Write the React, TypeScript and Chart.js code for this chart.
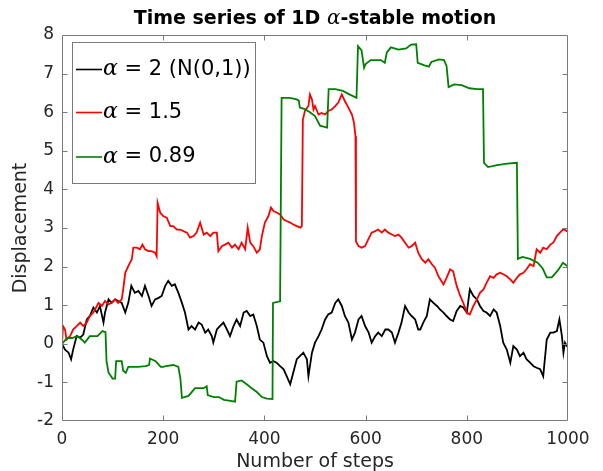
import React, { useEffect, useRef } from "react";
import { Chart, registerables } from "chart.js";

Chart.register(...registerables);

const TITLE_PARTS = ["Time series of 1D ", "α", "-stable motion"];
const X_LABEL = "Number of steps";
const Y_LABEL = "Displacement";
const SERIES_LABELS = ["α = 2 (N(0,1))", "α = 1.5", "α = 0.89"];
const SERIES_COLORS = ["#000000", "#ff0000", "#008000"];
const X_MIN = 0;
const X_MAX = 1000;
const X_STEP = 200;
const Y_MIN = -2;
const Y_MAX = 8;
const Y_STEP = 1;

// [step, displacement]
const blackWalk = [[0,0.0],[6,-0.15],[13,-0.23],[18,-0.40],[22,-0.15],[29,0.20],[36,0.16],[42,0.24],[49,0.63],[55,0.72],[62,0.94],[69,0.81],[75,0.98],[82,0.55],[85,0.81],[92,1.15],[98,1.06],[105,1.15],[111,1.11],[118,1.06],[125,0.81],[131,1.06],[137,1.50],[144,1.32],[151,1.37],[158,1.24],[164,1.50],[171,1.24],[177,0.98],[184,1.15],[191,1.19],[197,1.24],[204,1.50],[210,1.63],[217,1.50],[223,1.54],[230,1.32],[237,1.06],[243,0.81],[250,0.37],[256,0.46],[263,0.37],[270,0.55],[276,0.50],[283,0.29],[289,0.37],[296,0.20],[299,0.03],[306,0.37],[312,0.46],[319,0.55],[326,0.37],[332,0.20],[339,0.46],[345,0.63],[352,0.46],[359,0.81],[365,0.85],[372,0.72],[378,0.76],[385,0.46],[391,0.11],[398,0.03],[405,-0.32],[411,-0.49],[418,-0.45],[424,-0.49],[431,-0.58],[438,-0.66],[444,-0.84],[451,-1.05],[457,-0.75],[464,-0.40],[470,-0.32],[477,-0.23],[484,-0.40],[487,-0.84],[494,-0.23],[500,0.03],[507,0.20],[513,0.37],[520,0.63],[526,0.76],[533,0.81],[540,1.06],[546,1.15],[553,0.98],[559,0.72],[566,0.55],[573,0.11],[579,0.29],[586,0.63],[592,0.72],[599,0.46],[606,0.29],[612,0.03],[619,0.20],[625,0.29],[632,0.20],[639,0.37],[645,0.37],[652,0.29],[658,0.03],[665,0.29],[671,0.55],[678,0.98],[685,0.81],[691,0.72],[698,0.63],[704,0.37],[708,0.37],[714,0.55],[721,0.72],[727,1.15],[734,1.06],[741,0.98],[747,0.89],[754,0.81],[760,0.72],[767,0.63],[773,0.59],[780,0.85],[787,0.98],[793,0.94],[800,0.81],[806,1.41],[813,1.24],[820,1.15],[826,0.98],[833,0.85],[839,0.81],[846,0.72],[853,0.89],[859,0.81],[866,0.46],[872,0.03],[879,-0.15],[886,-0.49],[892,-0.06],[899,-0.15],[905,-0.32],[912,-0.23],[918,-0.40],[925,-0.49],[932,-0.58],[938,-0.62],[945,-0.66],[951,-0.84],[958,0.11],[965,0.29],[971,0.29],[978,0.33],[983,0.63],[988,0.20],[991,-0.23],[994,0.03],[998,-0.06],[1000,-0.05]];

const redWalk = [[0,0.0],[2,0.46],[6,0.37],[9,0.11],[16,0.20],[22,0.37],[29,0.46],[36,0.55],[42,0.46],[49,0.55],[55,0.72],[62,0.81],[69,0.98],[72,1.06],[79,0.98],[85,1.11],[92,1.02],[98,1.06],[105,1.15],[111,1.06],[118,1.15],[121,1.41],[125,1.84],[131,2.01],[138,2.19],[141,2.49],[148,2.49],[154,2.45],[159,2.57],[164,2.45],[171,2.40],[177,2.40],[184,2.36],[187,2.27],[189,3.65],[194,3.40],[200,3.31],[207,3.27],[214,3.05],[220,3.05],[227,2.96],[233,2.96],[240,2.92],[247,2.88],[253,2.75],[260,2.79],[266,2.88],[273,3.14],[280,2.83],[286,2.88],[293,2.79],[299,2.88],[306,2.88],[309,2.40],[316,2.53],[322,2.57],[329,2.62],[336,2.49],[342,2.57],[349,2.45],[355,2.62],[362,2.45],[367,3.01],[372,2.62],[378,2.53],[385,2.36],[391,2.45],[395,2.79],[401,3.14],[408,3.31],[413,3.53],[418,3.44],[424,3.40],[431,3.35],[438,3.22],[444,3.18],[451,3.14],[457,3.09],[464,3.05],[471,3.01],[474,3.05],[476,5.80],[480,6.03],[487,6.16],[490,6.46],[494,6.33],[497,6.07],[500,6.16],[507,5.94],[513,5.98],[520,5.94],[526,6.03],[533,6.07],[540,6.16],[546,6.25],[553,6.46],[559,6.29],[566,6.12],[573,5.94],[577,5.73],[580,5.38],[581,2.65],[586,2.53],[592,2.49],[599,2.53],[605,2.70],[612,2.88],[619,2.92],[625,2.96],[632,2.88],[638,2.96],[645,2.88],[652,2.83],[658,2.79],[665,2.83],[671,2.75],[678,2.62],[685,2.49],[691,2.53],[698,2.62],[704,2.36],[711,2.19],[718,2.10],[724,2.19],[731,2.06],[737,1.97],[744,1.75],[754,1.54],[760,1.71],[767,1.93],[773,1.88],[780,1.50],[787,1.24],[793,1.06],[800,0.81],[806,0.76],[813,0.98],[820,1.15],[826,1.32],[833,1.41],[839,1.58],[846,1.75],[853,1.71],[859,1.80],[866,1.84],[872,1.80],[879,1.75],[886,1.67],[892,1.58],[899,1.71],[905,1.80],[912,1.84],[918,1.93],[925,2.06],[932,2.01],[938,2.45],[945,2.36],[951,2.49],[958,2.45],[965,2.57],[971,2.62],[978,2.79],[984,2.88],[991,2.97],[998,2.92],[1000,2.90]];

const greenWalk = [[0,0.0],[10,0.15],[20,0.15],[30,0.2],[40,0.1],[45,0.03],[55,0.2],[70,0.2],[80,0.33],[86,0.3],[88,-0.45],[92,-0.75],[100,-0.9],[105,-0.9],[107,-0.45],[118,-0.45],[121,-0.7],[126,-0.75],[131,-0.6],[150,-0.6],[165,-0.58],[172,-0.55],[174,-0.38],[185,-0.45],[195,-0.6],[200,-0.6],[205,-0.58],[220,-0.55],[230,-0.6],[234,-0.9],[237,-1.4],[250,-1.35],[263,-1.15],[280,-1.15],[286,-1.1],[288,-1.33],[300,-1.38],[310,-1.38],[320,-1.45],[330,-1.47],[342,-1.5],[345,-0.98],[355,-0.95],[365,-1.05],[375,-1.15],[385,-1.25],[395,-1.38],[405,-1.42],[416,-1.43],[417,1.06],[431,1.1],[434,6.37],[450,6.37],[464,6.33],[468,6.3],[470,6.12],[480,6.08],[490,6.0],[500,5.9],[510,5.65],[524,5.6],[527,6.6],[540,6.6],[555,6.55],[570,6.45],[582,6.37],[585,7.71],[592,7.6],[597,7.15],[600,7.25],[610,7.35],[630,7.35],[638,7.28],[642,7.55],[650,7.68],[665,7.62],[680,7.65],[690,7.75],[700,7.76],[703,7.28],[715,7.22],[725,7.18],[730,7.3],[745,7.37],[755,7.35],[760,7.2],[764,6.65],[775,6.72],[790,6.7],[805,6.62],[820,6.6],[832,6.6],[834,4.69],[842,4.58],[860,4.63],[880,4.67],[899,4.69],[901,2.2],[910,2.25],[925,2.2],[940,2.1],[950,1.95],[958,1.72],[968,1.72],[980,1.9],[990,2.1],[1000,2.0]];

const SANS = "'DejaVu Sans', sans-serif";
const GREEK = "'DejaVu Serif', serif";
const AXIS_COLOR = "#7a7a7a";
const TEXT_COLOR = "#262626";

function pts(walk: number[][]) {
  return walk.map(([s, v]) => ({ x: s, y: v }));
}

function drawRich(ctx: CanvasRenderingContext2D, parts: [string, string][], x: number, y: number, align: "left" | "center") {
  let total = 0;
  for (const [t, f] of parts) {
    ctx.font = f;
    total += ctx.measureText(t).width;
  }
  let cx = align === "center" ? x - total / 2 : x;
  ctx.textBaseline = "middle";
  ctx.textAlign = "left";
  for (const [t, f] of parts) {
    ctx.font = f;
    ctx.fillText(t, cx, y);
    cx += ctx.measureText(t).width;
  }
}

const framePlugin = {
  id: "frame",
  afterDraw(chart: any) {
    const { ctx, chartArea: a, scales } = chart;
    ctx.save();
    const L = Math.round(a.left) + 0.5;
    const R = Math.round(a.right) - 0.5;
    const T = Math.round(a.top) + 0.5;
    const B = Math.round(a.bottom) - 0.5;
    ctx.strokeStyle = AXIS_COLOR;
    ctx.lineWidth = 1;
    ctx.beginPath();
    ctx.rect(L, T, R - L, B - T);
    const tl = 5;
    for (const t of scales.x.ticks) {
      if (t.value === X_MIN || t.value === X_MAX) continue;
      const px = Math.round(scales.x.getPixelForValue(t.value)) + 0.5;
      ctx.moveTo(px, B); ctx.lineTo(px, B - tl);
      ctx.moveTo(px, T); ctx.lineTo(px, T + tl);
    }
    for (const t of scales.y.ticks) {
      if (t.value === Y_MIN || t.value === Y_MAX) continue;
      const py = Math.round(scales.y.getPixelForValue(t.value)) + 0.5;
      ctx.moveTo(L, py); ctx.lineTo(L + tl, py);
      ctx.moveTo(R, py); ctx.lineTo(R - tl, py);
    }
    ctx.stroke();

    // title
    ctx.fillStyle = "#000";
    const cx = (a.left + a.right) / 2;
    drawRich(ctx, [
      [TITLE_PARTS[0], `bold 19px ${SANS}`],
      [TITLE_PARTS[1], `italic 20px ${GREEK}`],
      [TITLE_PARTS[2], `bold 19px ${SANS}`],
    ], cx, 19, "center");

    // legend
    const lx = 72.5, ly = 42.5, lw = 183, lh = 141;
    ctx.fillStyle = "#fff";
    ctx.fillRect(lx, ly, lw, lh);
    ctx.strokeStyle = AXIS_COLOR;
    ctx.strokeRect(lx, ly, lw, lh);
    const rows = [69.5, 112.5, 157];
    chart.data.datasets.forEach((ds: any, i: number) => {
      const y = rows[i];
      ctx.strokeStyle = ds.borderColor;
      ctx.lineWidth = 1.6;
      ctx.beginPath();
      ctx.moveTo(76, y);
      ctx.lineTo(102, y);
      ctx.stroke();
      ctx.fillStyle = "#000";
      const label: string = ds.label;
      drawRich(ctx, [
        [label.slice(0, 1), `italic 22px ${GREEK}`],
        [label.slice(1), `21px ${SANS}`],
      ], 103, y, "left");
    });
    ctx.restore();
  },
};

export default function App() {
  const ref = useRef<HTMLCanvasElement | null>(null);
  useEffect(() => {
    if (!ref.current) return;
    const chart = new Chart(ref.current, {
      type: "line",
      data: {
        datasets: [
          { label: SERIES_LABELS[0], data: pts(blackWalk), borderColor: SERIES_COLORS[0], borderWidth: 1.8, pointRadius: 0, tension: 0, fill: false, order: 2 },
          { label: SERIES_LABELS[1], data: pts(redWalk), borderColor: SERIES_COLORS[1], borderWidth: 1.8, pointRadius: 0, tension: 0, fill: false, order: 1 },
          { label: SERIES_LABELS[2], data: pts(greenWalk), borderColor: SERIES_COLORS[2], borderWidth: 1.8, pointRadius: 0, tension: 0, fill: false, order: 0 },
        ],
      },
      options: {
        animation: false,
        responsive: false,
        devicePixelRatio: 1,
        layout: { padding: { left: 0, right: 35, top: 35, bottom: 0 } },
        plugins: { legend: { display: false }, title: { display: false }, tooltip: { enabled: false } },
        scales: {
          x: {
            type: "linear",
            min: X_MIN,
            max: X_MAX,
            grid: { display: false, drawTicks: false },
            border: { display: false },
            ticks: { stepSize: X_STEP, color: TEXT_COLOR, font: { family: SANS, size: 17 }, padding: 8, maxRotation: 0, autoSkip: false, callback: (v: any) => String(v) },
            title: { display: true, text: X_LABEL, color: TEXT_COLOR, font: { family: SANS, size: 19, lineHeight: 1 }, padding: { top: 0, bottom: -1 } },
            afterFit: (s: any) => { s.height = 50; },
          },
          y: {
            type: "linear",
            min: Y_MIN,
            max: Y_MAX,
            grid: { display: false, drawTicks: false },
            border: { display: false },
            ticks: { stepSize: Y_STEP, color: TEXT_COLOR, font: { family: SANS, size: 17 }, padding: 8, autoSkip: false, callback: (v: any) => String(v) },
            title: { display: true, text: Y_LABEL, color: TEXT_COLOR, font: { family: SANS, size: 19, lineHeight: 1 }, padding: { top: 12, bottom: 0 } },
            afterFit: (s: any) => { s.width = 62; },
          },
        },
      },
      plugins: [framePlugin],
    } as any);
    return () => chart.destroy();
  }, []);
  return (
    <div style={{ position: "fixed", left: 0, top: 0, width: 603, height: 471, background: "#fff" }}>
      <canvas ref={ref} width={603} height={471} style={{ display: "block" }} />
    </div>
  );
}
